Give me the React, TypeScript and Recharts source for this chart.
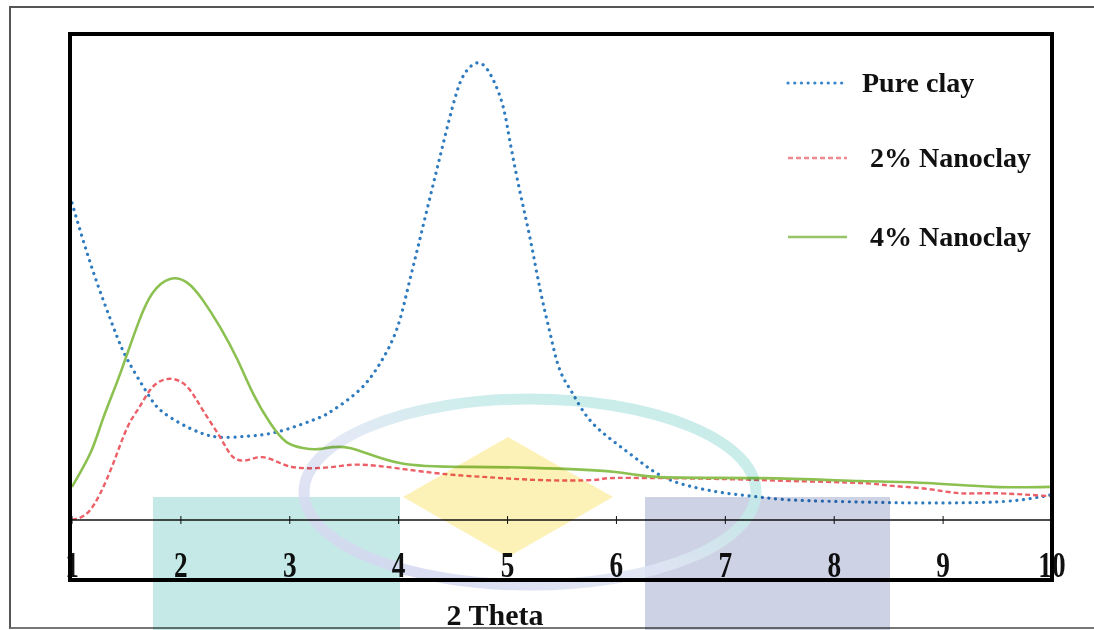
import React from 'react';
import { LineChart, Line, XAxis, YAxis, Legend, Label } from 'recharts';

// 2θ tick positions along the diffraction axis
const thetaTicks = [1, 2, 3, 4, 5, 6, 7, 8, 9, 10];

// Pure clay (XRD scan, 2θ in degrees vs. intensity counts)
const pureClayTheta = [
  1.0, 1.19, 1.38, 1.51, 1.69, 1.81, 1.99, 2.18, 2.36, 2.61, 2.85, 3.09, 3.28, 3.4,
  3.64, 3.83, 3.98, 4.08, 4.17, 4.26, 4.35, 4.44, 4.54, 4.63, 4.75, 4.87, 4.96, 5.02,
  5.11, 5.21, 5.3, 5.39, 5.48, 5.6, 5.78, 6.1, 6.4, 6.7, 7.01, 7.32, 7.62, 8.24, 8.85,
  9.46, 9.77, 9.98,
];
const pureClayCounts = [
  651, 513, 396, 329, 261, 226, 199, 179, 170, 172, 179, 195, 211, 226,
  267, 322, 390, 472, 554, 637, 719, 801, 883, 924, 938, 903, 848, 780,
  678, 575, 472, 384, 308, 259, 199, 140, 92, 68, 55, 47, 41, 37, 35,
  37, 43, 51,
];

// 2% nanoclay
const nano2Theta = [
  1.0, 1.14, 1.26, 1.38, 1.51, 1.62, 1.74, 1.9, 2.06, 2.2, 2.36, 2.48, 2.61, 2.75,
  2.91, 3.09, 3.4, 3.71, 4.31, 4.81, 5.3, 5.78, 5.94, 6.4, 7.01, 7.62, 8.24, 8.54,
  8.85, 9.15, 9.46, 9.98,
];
const nano2Counts = [
  0, 14, 55, 117, 191, 232, 273, 290, 273, 226, 170, 129, 123, 129,
  117, 107, 109, 113, 97, 88, 82, 82, 86, 86, 84, 80, 76, 70,
  64, 55, 55, 49,
];

// 4% nanoclay
const nano4Theta = [
  1.0, 1.17, 1.28, 1.41, 1.51, 1.62, 1.74, 1.9, 2.06, 2.2, 2.36, 2.52, 2.66, 2.82,
  2.97, 3.12, 3.28, 3.55, 4.01, 4.63, 5.23, 5.97, 6.4, 7.32, 8.24, 8.85, 9.46, 9.98,
];
const nano4Counts = [
  68, 138, 205, 281, 343, 411, 466, 495, 487, 452, 396, 329, 261, 199,
  160, 148, 146, 148, 117, 109, 107, 99, 88, 86, 80, 76, 68, 68,
];

const seriesNames = ['Pure clay', '2% Nanoclay', '4% Nanoclay'];

const toPoints = (theta: number[], counts: number[]) =>
  theta.map((t, i) => ({ theta: t, count: counts[i] }));

const SERIF = "'Liberation Serif', 'Times New Roman', serif";

const series = [
  {
    name: seriesNames[0],
    data: toPoints(pureClayTheta, pureClayCounts),
    color: '#2f7bbf',
    legendColor: '#3a86c8',
    width: 3.2,
    dash: '0.1 6.6',
    cap: 'round' as const,
    textX: 92,
  },
  {
    name: seriesNames[1],
    data: toPoints(nano2Theta, nano2Counts),
    color: '#ec5f67',
    legendColor: '#f08890',
    width: 2.4,
    dash: '5 3',
    cap: 'butt' as const,
    textX: 100,
  },
  {
    name: seriesNames[2],
    data: toPoints(nano4Theta, nano4Counts),
    color: '#8cc152',
    legendColor: '#97c467',
    width: 2.6,
    dash: undefined,
    cap: 'butt' as const,
    textX: 100,
  },
];

const legendRows = [33, 108, 187];

const ThetaTick = (props: any) => {
  const { x, y, payload } = props;
  return (
    <g>
      <line x1={x} x2={x} y1={y - 4} y2={y + 4} stroke="#111" strokeWidth={1} />
      <text
        transform={`translate(${x},${y + 57}) scale(1.05,1.35)`}
        textAnchor="middle"
        fontFamily={SERIF}
        fontSize={26}
        fontWeight="bold"
        fill="#111"
      >
        {payload.value}
      </text>
    </g>
  );
};

const IntensityLabel = (props: any) => {
  const { viewBox } = props;
  const cx = viewBox.x - 19;
  const cy = viewBox.y + viewBox.height / 2 + 47;
  return (
    <text
      transform={`translate(${cx},${cy}) rotate(-90)`}
      textAnchor="middle"
      fontFamily={SERIF}
      fontSize={30}
      fontWeight="bold"
      fill="#111"
      textLength={266}
      lengthAdjust="spacingAndGlyphs"
    >
      Intensity (count)
    </text>
  );
};

const ThetaLabel = (props: any) => {
  const { viewBox } = props;
  const cx = viewBox.x + viewBox.width / 2 - 67;
  return (
    <text
      x={cx}
      y={viewBox.y + 105}
      textAnchor="middle"
      fontFamily={SERIF}
      fontSize={30}
      fontWeight="bold"
      fill="#111"
    >
      2 Theta
    </text>
  );
};

// Legend keeps the series' declared order
const SeriesLegend = () => (
  <svg width={320} height={220} style={{ display: 'block' }}>
    {series.map((s, i) => {
      const y = legendRows[i];
      return (
        <g key={s.name}>
          <line
            x1={18}
            x2={77}
            y1={y}
            y2={y}
            stroke={s.legendColor}
            strokeWidth={s.width}
            strokeDasharray={s.dash}
            strokeLinecap={s.cap}
          />
          <text
            x={s.textX}
            y={y + 9}
            fontFamily={SERIF}
            fontSize={28}
            fontWeight="bold"
            fill="#111"
          >
            {s.name}
          </text>
        </g>
      );
    })}
  </svg>
);

// University watermark stamped over the figure
const Watermark = () => (
  <svg
    width={1094}
    height={630}
    style={{ position: 'absolute', left: 0, top: 0, mixBlendMode: 'multiply', pointerEvents: 'none' }}
  >
    <defs>
      <linearGradient id="ringGrad" x1="0" y1="1" x2="1" y2="0">
        <stop offset="0%" stopColor="#cfd1ee" />
        <stop offset="45%" stopColor="#dfe6f4" />
        <stop offset="70%" stopColor="#c4ebe8" />
        <stop offset="100%" stopColor="#bde8e5" />
      </linearGradient>
    </defs>
    <rect x={153} y={497} width={247} height={133} fill="#c4e9e6" />
    <rect x={645} y={497} width={245} height={133} fill="#cdd2e4" />
    <polygon points="508,437 613,497 508,557 403,497" fill="#fcf2b7" />
    <ellipse
      cx={530}
      cy={492}
      rx={226}
      ry={93}
      fill="none"
      stroke="url(#ringGrad)"
      strokeWidth={11}
      opacity={0.85}
    />
  </svg>
);

export default function App() {
  return (
    <div style={{ position: 'absolute', left: 0, top: 0, width: 1094, height: 630, background: '#fff' }}>
      <LineChart
        width={1094}
        height={630}
        margin={{ top: 33, right: 42, bottom: 80, left: 72 }}
      >
        <XAxis
          dataKey="theta"
          type="number"
          domain={[1, 10]}
          ticks={thetaTicks}
          interval={0}
          height={30}
          tickSize={0}
          tickMargin={0}
          tickLine={false}
          axisLine={{ stroke: '#111', strokeWidth: 1.5 }}
          tick={<ThetaTick />}
          allowDataOverflow
        >
          <Label content={<ThetaLabel />} />
        </XAxis>
        <YAxis
          type="number"
          domain={[0, 1000]}
          width={0}
          axisLine={false}
          tickLine={false}
          tick={false}
          allowDataOverflow
        >
          <Label content={<IntensityLabel />} />
        </YAxis>
        <Legend
          layout="horizontal"
          verticalAlign="middle"
          align="center"
          content={<SeriesLegend />}
          wrapperStyle={{ position: 'absolute', left: 770, top: 50, width: 320, height: 220 }}
        />
        {series.map((s) => (
          <Line
            key={s.name}
            name={s.name}
            data={s.data}
            dataKey="count"
            type="natural"
            stroke={s.color}
            strokeWidth={s.width}
            strokeDasharray={s.dash}
            strokeLinecap={s.cap}
            dot={false}
            activeDot={false}
            isAnimationActive={false}
          />
        ))}
      </LineChart>
      {/* thin outer frame */}
      <div
        style={{
          position: 'absolute',
          left: 9,
          top: 6,
          width: 1094 - 9,
          height: 623,
          borderTop: '2px solid #555',
          borderLeft: '2px solid #555',
          borderBottom: '2px solid #777',
          boxSizing: 'border-box',
          pointerEvents: 'none',
        }}
      />
      {/* heavy plot box */}
      <div
        style={{
          position: 'absolute',
          left: 68,
          top: 32,
          width: 986,
          height: 550,
          border: '4.5px solid #000',
          boxSizing: 'border-box',
          pointerEvents: 'none',
        }}
      />
      <Watermark />
    </div>
  );
}
